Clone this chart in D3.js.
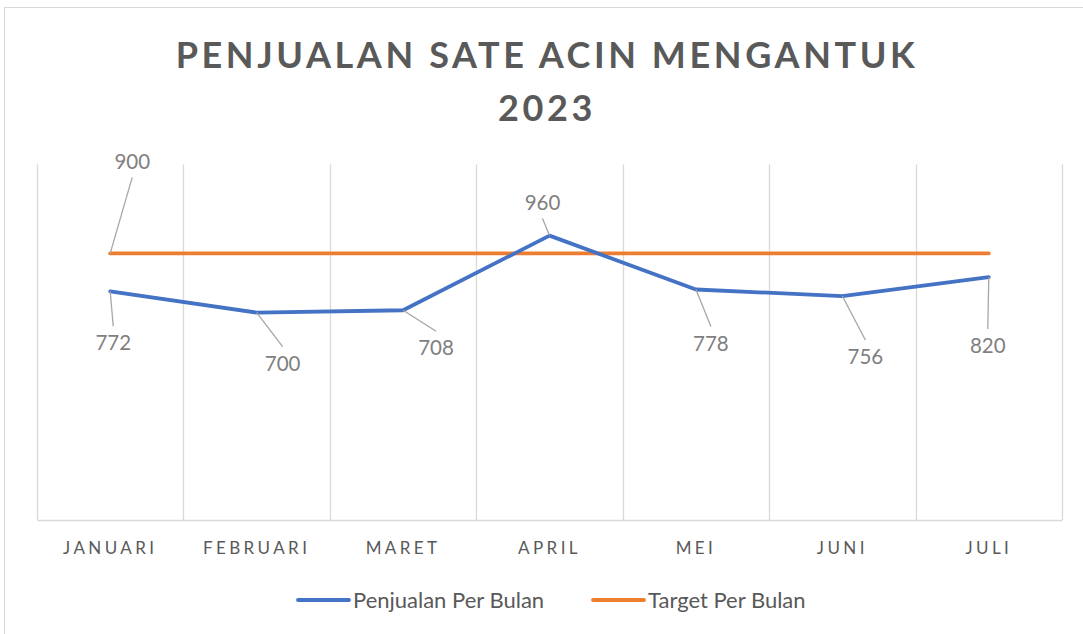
<!DOCTYPE html>
<html>
<head>
<meta charset="utf-8">
<script src="https://cdn.jsdelivr.net/npm/d3@7"></script>
<style>
  html, body { margin: 0; padding: 0; background: #fff; }
  svg { display: block; font-family: Lato, "Open Sans", sans-serif; }
</style>
</head>
<body>
<div id="chart"></div>
<script>
  // data
  var months  = ['JANUARI', 'FEBRUARI', 'MARET', 'APRIL', 'MEI', 'JUNI', 'JULI'];
  var sales   = [772, 700, 708, 960, 778, 756, 820];
  var target  = [900, 900, 900, 900, 900, 900, 900];
  var yTicks  = [0, 1200];
  var seriesNames = ['Penjualan Per Bulan', 'Target Per Bulan'];

  // shared config
  var width  = 1083,
      height = 634;

  var blue   = '#4472c4',
      orange = '#ed7d31',
      grid   = '#d9d9d9',
      text   = '#595959',
      label  = '#7f7f7f',
      leader = '#a6a6a6';

  var svg = d3.select('#chart').append('svg')
    .attr('width', width)
    .attr('height', height);

  // chart border
  svg.append('rect')
    .attr('x', 4.5).attr('y', 7.5)
    .attr('width', width + 10).attr('height', height + 10)
    .attr('fill', '#fff')
    .attr('stroke', grid);

  // scales
  var x = d3.scaleBand().domain(months).range([37, 1062]);
  var y = d3.scaleLinear().domain(d3.extent(yTicks)).range([520, 164.5]);
  function cx(i){ return x(months[i]) + x.bandwidth() / 2 }

  // title
  var title = svg.append('text')
    .attr('text-anchor', 'middle')
    .attr('fill', text)
    .attr('font-weight', 'bold')
    .attr('font-size', 36)
    .attr('letter-spacing', 3.6);
  title.append('tspan').attr('x', 547).attr('y', 68).text('PENJUALAN SATE ACIN MENGANTUK');
  title.append('tspan').attr('x', 547).attr('y', 121).text('2023');

  // vertical gridlines at category edges
  var edges = months.map(function(m){ return x(m) }).concat([x.range()[1]]);
  svg.append('g').selectAll('line').data(edges).enter().append('line')
    .attr('x1', function(d){ return Math.round(d) + 0.5 })
    .attr('x2', function(d){ return Math.round(d) + 0.5 })
    .attr('y1', y(1200))
    .attr('y2', y(0))
    .attr('stroke', grid)
    .attr('stroke-width', 1.3);

  // x axis
  var xAxis = svg.append('g')
    .attr('transform', 'translate(0,' + y(0) + ')')
    .call(d3.axisBottom(x).tickSize(0).tickPadding(22));
  xAxis.select('.domain').attr('stroke', grid).attr('stroke-width', 1.5);
  xAxis.selectAll('text')
    .attr('fill', text)
    .attr('font-size', 17)
    .attr('letter-spacing', 3.4)
    .attr('font-family', 'Lato, sans-serif');

  // lines
  var line = d3.line()
    .x(function(d, i){ return cx(i) })
    .y(function(d){ return y(d) });

  svg.append('path').datum(target)
    .attr('d', line)
    .attr('fill', 'none')
    .attr('stroke', orange)
    .attr('stroke-width', 3.8)
    .attr('stroke-linecap', 'round');

  svg.append('path').datum(sales)
    .attr('d', line)
    .attr('fill', 'none')
    .attr('stroke', blue)
    .attr('stroke-width', 3.8)
    .attr('stroke-linecap', 'round')
    .attr('stroke-linejoin', 'round');

  // data labels with leader lines: offsets of label centre from the point
  var salesLabelOffset = [[3, 52], [26, 51], [33, 38], [-7, -33], [15, 54], [23, 61], [-1, 69]];
  var targetLabelOffset = [22, -92];

  function dataLabel(px, py, off){
    var lx = px + off[0], ly = py + off[1];
    var gap = off[1] > 0 ? -17 : 16;
    svg.append('line')
      .attr('x1', px).attr('y1', py)
      .attr('x2', lx).attr('y2', ly + gap)
      .attr('stroke', leader)
      .attr('stroke-width', 1.3);
  }
  function labelText(px, py, off, v){
    svg.append('text')
      .attr('x', px + off[0])
      .attr('y', py + off[1])
      .attr('dy', '0.35em')
      .attr('text-anchor', 'middle')
      .attr('fill', label)
      .attr('font-size', 20.5)
      .text(v);
  }

  sales.forEach(function(v, i){ dataLabel(cx(i), y(v), salesLabelOffset[i]) });
  dataLabel(cx(0), y(target[0]), targetLabelOffset);
  sales.forEach(function(v, i){ labelText(cx(i), y(v), salesLabelOffset[i], v) });
  labelText(cx(0), y(target[0]), targetLabelOffset, target[0]);

  // legend
  var legend = [
    {name: seriesNames[0], color: blue,   x: 297},
    {name: seriesNames[1], color: orange, x: 592}
  ];
  var lg = svg.append('g').selectAll('g').data(legend).enter().append('g')
    .attr('transform', function(d){ return 'translate(' + d.x + ',600)' });
  lg.append('line')
    .attr('x1', 1).attr('x2', 52)
    .attr('stroke', function(d){ return d.color })
    .attr('stroke-width', 3.8)
    .attr('stroke-linecap', 'round');
  lg.append('text')
    .attr('x', 56)
    .attr('dy', '0.35em')
    .attr('fill', text)
    .attr('font-size', 22)
    .text(function(d){ return d.name });
</script>
</body>
</html>
